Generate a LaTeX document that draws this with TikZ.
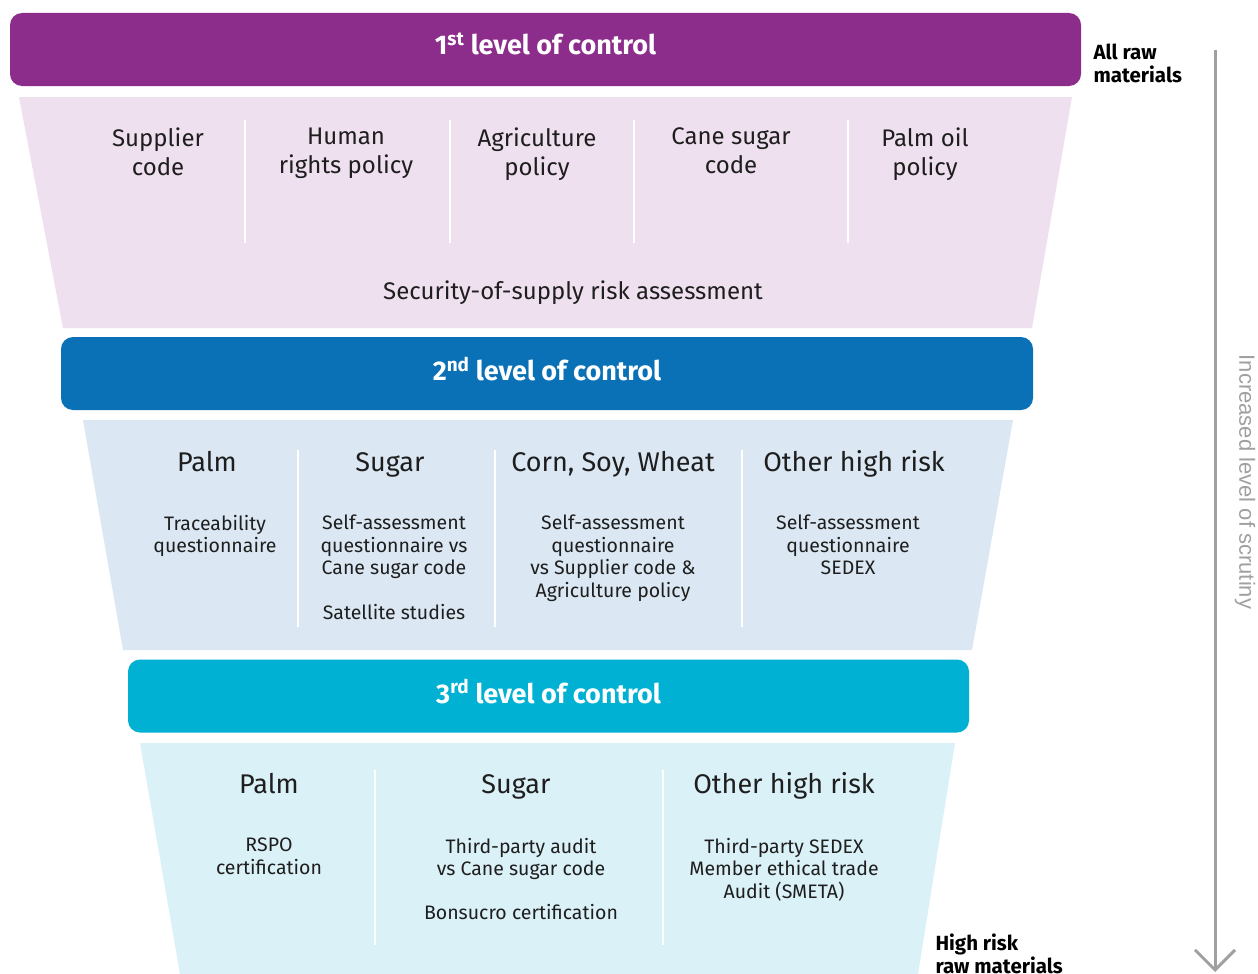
\documentclass[tikz,border=0pt]{standalone}
\usepackage{fontspec}
\setmainfont{Fira Sans}
\newfontfamily\arialfont{Liberation Sans}
\usetikzlibrary{arrows.meta}
\definecolor{ctrlone}{HTML}{8C2D8B}
\definecolor{ctrltwo}{HTML}{0B71B6}
\definecolor{ctrlthree}{HTML}{00B1D3}
\definecolor{tierone}{HTML}{EEE0EF}
\definecolor{tiertwo}{HTML}{DBE8F3}
\definecolor{tierthree}{HTML}{DBF1F8}
\definecolor{inktext}{HTML}{1E1E1E}
\definecolor{scrutinygray}{HTML}{A0A0A0}
\tikzset{arrow/.style={line width=3pt,scrutinygray,-{Straight Barb[length=20pt,width=40pt]}}}

\begin{document}
\begin{tikzpicture}
        [
            x=1pt,y=-1pt,
            bar/.style={rectangle,rounded corners=12pt,minimum height=73pt,text height=19pt,text depth=5pt,text=white,font=\fontsize{27}{30}\selectfont\bfseries},
            item/.style={anchor=north,align=center,text=inktext,execute at begin node=\strut,font=\fontsize{24}{29}\selectfont},
            head/.style={anchor=north,align=center,text=inktext,execute at begin node=\strut,font=\fontsize{27}{32}\selectfont},
            small/.style={anchor=north,align=center,text=inktext,execute at begin node=\strut,font=\fontsize{19.5}{22.5}\selectfont},
            divider/.style={white,line width=2pt},
            side/.style={anchor=west,align=left,text=black,font=\fontsize{20.5}{23}\selectfont\bfseries},
        ]

    \useasboundingbox[fill=white] (0,0) rectangle (1258,974);

    \fill[tierone] (19,97) -- (1072,97) -- (1032,328) -- (63,328) -- cycle;
    \fill[tiertwo] (83,420) -- (1013,420) -- (972,650) -- (123,650) -- cycle;
    \fill[tierthree] (140,743) -- (955,743) -- (918,974) -- (180,974) -- cycle;

    \foreach \x in {245,450,634,848}
        \draw[divider] (\x,120) -- (\x,243);
    \foreach \x in {298,495,742}
        \draw[divider] (\x,450) -- (\x,627);
    \foreach \x in {375,663}
        \draw[divider] (\x,770) -- (\x,945);

    \node [bar,fill=ctrlone,minimum width=1071pt,text depth=9pt] (lvlone) at (545.5,49.5){1\textsuperscript{st} level of control};
    \node [bar,fill=ctrltwo,minimum width=972pt] (lvltwo) at (547,373.5){2\textsuperscript{nd} level of control};
    \node [bar,fill=ctrlthree,minimum width=841pt] (lvlthree) at (548.5,696){3\textsuperscript{rd} level of control};

    \node [item] (supcode) at (158,124.4){Supplier\\code};
    \node [item] (humanrights) at (346,124.4){Human\\rights policy};
    \node [item] (agripolicy) at (537,124.4){Agriculture\\policy};
    \node [item] (canecode) at (731,124.4){Cane sugar\\code};
    \node [item] (palmpolicy) at (925,124.4){Palm oil\\policy};
    \node [item] (security) at (573,275.4){Security-of-supply risk assessment};

    \node [head] (palmtwo) at (207,445.5){Palm};
    \node [head] (sugartwo) at (390,445.5){Sugar};
    \node [head] (corntwo) at (613,445.5){Corn, Soy, Wheat};
    \node [head] (othertwo) at (854,445.5){Other high risk};
    \node [small] (trace) at (215,511.4){Traceability\\questionnaire};
    \node [small] (selfsugar) at (394,511.4){Self-assessment\\questionnaire vs\\Cane sugar code};
    \node [small] (satellite) at (394,600.4){Satellite studies};
    \node [small] (selfcorn) at (613,511.4){Self-assessment\\questionnaire\\vs Supplier code \&\\Agriculture policy};
    \node [small] (selfother) at (848,511.4){Self-assessment\\questionnaire\\SEDEX};

    \node [head] (palmthree) at (269,767.5){Palm};
    \node [head] (sugarthree) at (516,767.5){Sugar};
    \node [head] (otherthree) at (784,767.5){Other high risk};
    \node [small] (rspo) at (269,834.4){RSPO\\certification};
    \node [small] (audit) at (521,834.4){Third-party audit\\vs Cane sugar code};
    \node [small] (bonsucro) at (521,900.4){Bonsucro certification};
    \node [small] (smeta) at (784,834.4){Third-party SEDEX\\Member ethical trade\\Audit (SMETA)};

    \node [side] (allraw) at (1090,63.5){All raw\\materials};
    \node [side] (highrisk) at (932,953.5){High risk\\raw materials};

    \coordinate (arrtop) at (1215,50);
    \coordinate (arrbot) at (1215,972);
    \draw[arrow] (arrtop) -- (arrbot);
    \node [rotate=-90,text=scrutinygray,font=\arialfont\fontsize{22}{25}\selectfont] (scrutiny) at (1245,482){Increased level of scrutiny};
    \end{tikzpicture}
\end{document}
